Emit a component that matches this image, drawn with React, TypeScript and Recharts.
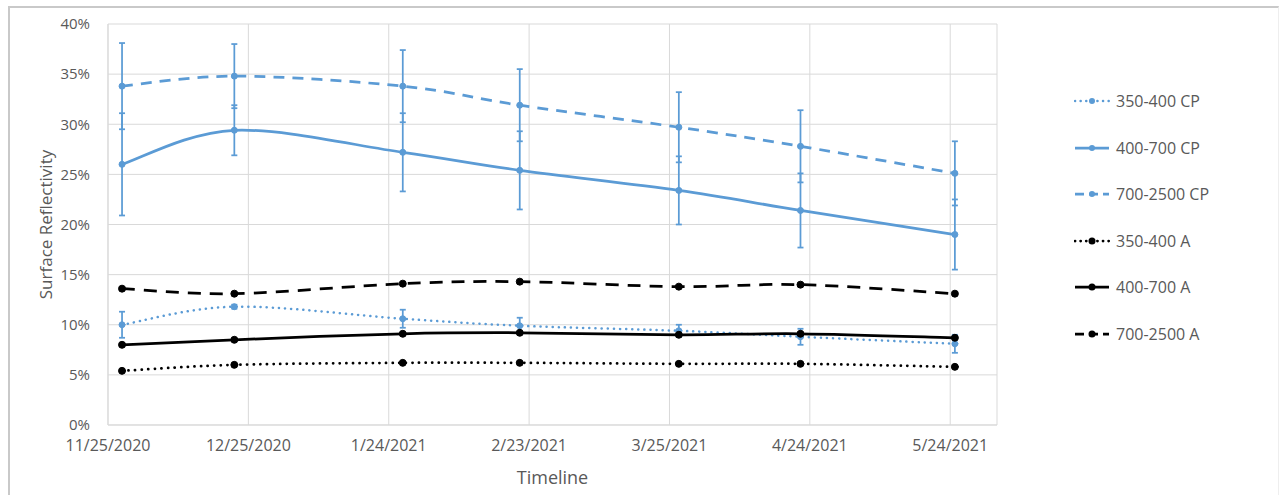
import React from 'react'
import { LineChart, Line, XAxis, YAxis, CartesianGrid, ErrorBar } from 'recharts'

// measurement dates
const dates = ['11/28/2020', '12/22/2020', '1/27/2021', '2/21/2021', '3/27/2021', '4/22/2021', '5/25/2021']
const tickDates = ['11/25/2020', '12/25/2020', '1/24/2021', '2/23/2021', '3/25/2021', '4/24/2021', '5/24/2021']
const axisEnd = '6/3/2021'

// surface reflectivity, %
const cp350 = [10.0, 11.8, 10.6, 9.9, 9.4, 8.8, 8.1]
const cp350Err = [1.3, 0.2, 0.9, 0.8, 0.6, 0.8, 0.9]
const cp400 = [26.0, 29.4, 27.2, 25.4, 23.4, 21.4, 19.0]
const cp400Err = [5.1, 2.5, 3.9, 3.9, 3.4, 3.7, 3.5]
const cp700 = [33.8, 34.8, 33.8, 31.9, 29.7, 27.8, 25.1]
const cp700Err = [4.3, 3.2, 3.6, 3.6, 3.5, 3.6, 3.2]
const a350 = [5.4, 6.0, 6.2, 6.2, 6.1, 6.1, 5.8]
const a400 = [8.0, 8.5, 9.1, 9.2, 9.0, 9.1, 8.7]
const a700 = [13.6, 13.1, 14.1, 14.3, 13.8, 14.0, 13.1]

const yTicks = [0, 5, 10, 15, 20, 25, 30, 35, 40]

const BLUE = '#5B9BD5'
const TEXT = '#595959'
const GRID = '#d9d9d9'
const FONT = '"Open Sans", sans-serif'

const toTime = (s: string) => {
  const [m, d, y] = s.split('/').map(Number)
  return Date.UTC(y, m - 1, d)
}

const data = dates.map((d, i) => ({
  t: toTime(d),
  cp350: cp350[i],
  cp350Err: cp350Err[i],
  cp400: cp400[i],
  cp400Err: cp400Err[i],
  cp700: cp700[i],
  cp700Err: cp700Err[i],
  a350: a350[i],
  a400: a400[i],
  a700: a700[i],
}))

const ticks = tickDates.map(toTime)
const tickLabel = (v: number) => tickDates[ticks.indexOf(v)] ?? ''

// Excel-like smoothed line (Catmull-Rom through the points)
const smooth = (context: any) => {
  let pts: [number, number][] = []
  return {
    areaStart() {},
    areaEnd() {},
    lineStart() { pts = [] },
    point(x: number, y: number) { pts.push([+x, +y]) },
    lineEnd() {
      if (!pts.length) return
      context.moveTo(pts[0][0], pts[0][1])
      for (let i = 0; i < pts.length - 1; i++) {
        const p0 = pts[i - 1] || pts[i]
        const p1 = pts[i]
        const p2 = pts[i + 1]
        const p3 = pts[i + 2] || p2
        context.bezierCurveTo(
          p1[0] + (p2[0] - p0[0]) / 6, p1[1] + (p2[1] - p0[1]) / 6,
          p2[0] - (p3[0] - p1[0]) / 6, p2[1] - (p3[1] - p1[1]) / 6,
          p2[0], p2[1],
        )
      }
    },
  }
}

const series = [
  { key: 'cp350', name: '350-400 CP', color: BLUE, dash: '0.1 6', width: 2.5, r: 3, err: 'cp350Err' },
  { key: 'cp400', name: '400-700 CP', color: BLUE, dash: undefined, width: 2.75, r: 3, err: 'cp400Err' },
  { key: 'cp700', name: '700-2500 CP', color: BLUE, dash: '11 8', width: 2.75, r: 3, err: 'cp700Err' },
  { key: 'a350', name: '350-400 A', color: '#000', dash: '0.1 6.5', width: 2.75, r: 3.5, err: null },
  { key: 'a400', name: '400-700 A', color: '#000', dash: undefined, width: 2.75, r: 3.5, err: null },
  { key: 'a700', name: '700-2500 A', color: '#000', dash: '13 9', width: 2.75, r: 3.5, err: null },
]

const isDot = (dash?: string) => !!dash && dash.startsWith('0.1')

function LegendBox() {
  return (
    <div style={{ position: 'absolute', left: 1074, top: 91, fontFamily: FONT, fontSize: 16, color: TEXT }}>
      {series.map((s, i) => (
        <div key={s.key} style={{ position: 'absolute', top: i * 46.6, left: 0, height: 20, display: 'flex', alignItems: 'center', whiteSpace: 'nowrap' }}>
          <svg width={36} height={12} style={{ marginRight: 6 }}>
            <line x1={1} y1={6} x2={35} y2={6} stroke={s.color} strokeWidth={s.width} strokeDasharray={s.dash ? (isDot(s.dash) ? '0.1 5.5' : '9 5') : undefined} strokeLinecap={isDot(s.dash) ? 'round' : 'butt'} />
            <circle cx={18} cy={6} r={s.r} fill={s.color} />
          </svg>
          <span>{s.name}</span>
        </div>
      ))}
    </div>
  )
}

export default function App() {
  return (
    <div style={{ position: 'absolute', left: 0, top: 0, width: 1286, height: 495, background: '#fff' }}>
      <div style={{ position: 'absolute', left: 8, top: 6, width: 1268, height: 495, borderTop: '2px solid #c9c9c9', borderLeft: '2px solid #c9c9c9', borderRight: '1px solid #eeeeee' }} />
      <div style={{ position: 'absolute', left: 0, top: 0 }}>
        <LineChart width={1286} height={495} data={data} margin={{ top: 24, right: 289, bottom: 40, left: 38 }}>
          <CartesianGrid stroke={GRID} strokeWidth={1} />
          <XAxis
            dataKey="t"
            type="number"
            scale="linear"
            domain={[ticks[0], toTime(axisEnd)]}
            ticks={ticks}
            tickFormatter={tickLabel}
            height={30}
            tickLine={false}
            tickMargin={9}
            axisLine={{ stroke: GRID }}
            tick={{ fill: TEXT, fontSize: 16, fontFamily: FONT }}
            interval={0}
            allowDataOverflow
            label={{ value: 'Timeline', position: 'bottom', offset: 16, fill: TEXT, fontSize: 18, fontFamily: FONT }}
          />
          <YAxis
            type="number"
            domain={[0, 40]}
            ticks={yTicks}
            tickFormatter={(v: number) => `${v}%`}
            width={70}
            tickLine={false}
            tickMargin={12}
            axisLine={{ stroke: GRID }}
            tick={{ fill: TEXT, fontSize: 15, fontFamily: FONT }}
            interval={0}
            label={{
              content: (props: any) => {
                const vb = props.viewBox
                const cx = vb.x + 7
                const cy = vb.y + vb.height / 2
                return (
                  <text x={cx} y={cy} transform={`rotate(-90 ${cx} ${cy})`} textAnchor="middle" dominantBaseline="central" fill={TEXT} fontSize={17} fontFamily={FONT}>
                    Surface Reflectivity
                  </text>
                )
              },
            }}
          />
          {series.map(s => (
            <Line
              key={s.key}
              dataKey={s.key}
              name={s.name}
              type={smooth as any}
              stroke={s.color}
              strokeWidth={s.width}
              strokeDasharray={s.dash}
              strokeLinecap={isDot(s.dash) ? 'round' : 'butt'}
              dot={{ r: s.r, fill: s.color, stroke: s.color, strokeWidth: 1, strokeDasharray: 'none' }}
              activeDot={false}
              isAnimationActive={false}
            >
              {s.err && (
                <ErrorBar dataKey={s.err} direction="y" width={3} stroke={BLUE} strokeWidth={1.75} isAnimationActive={false} />
              )}
            </Line>
          ))}
        </LineChart>
      </div>
      <LegendBox />
    </div>
  )
}
